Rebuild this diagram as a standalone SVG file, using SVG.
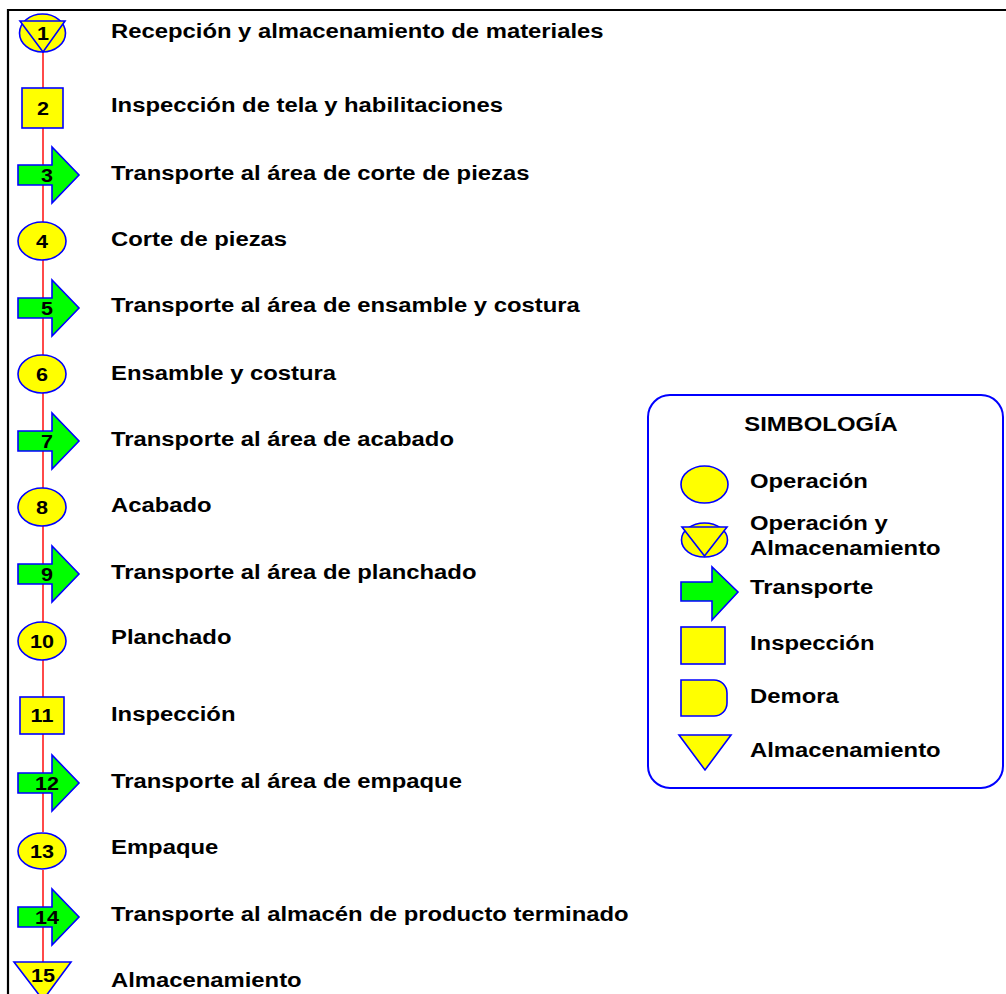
<svg xmlns="http://www.w3.org/2000/svg" width="1006" height="994" viewBox="0 0 1006 994">
<style>
.t{font-family:"Liberation Sans",Arial,sans-serif;font-weight:bold;font-size:21px;fill:#000}
.n{font-size:19px;text-anchor:middle}
.y{fill:#ffff00;stroke:#0000ff;stroke-width:1.6}
.g{fill:#00ff00;stroke:#0000ff;stroke-width:1.6}
.c line{stroke:#ff4a4a;stroke-width:2}
</style>
<rect width="1006" height="994" fill="#fff"/>
<path d="M8,994 V10 H1006" fill="none" stroke="#000" stroke-width="2.2"/>
<g id="connectors" class="c">
<line x1="43" y1="52" x2="43" y2="88"/>
<line x1="43" y1="128" x2="43" y2="165"/>
<line x1="43" y1="185" x2="43" y2="222"/>
<line x1="43" y1="260" x2="43" y2="298"/>
<line x1="43" y1="318" x2="43" y2="355"/>
<line x1="43" y1="393" x2="43" y2="431"/>
<line x1="43" y1="451" x2="43" y2="488"/>
<line x1="43" y1="526" x2="43" y2="564"/>
<line x1="43" y1="584" x2="43" y2="622"/>
<line x1="43" y1="660" x2="43" y2="697"/>
<line x1="43" y1="734" x2="43" y2="773"/>
<line x1="43" y1="793" x2="43" y2="832"/>
<line x1="43" y1="870" x2="43" y2="907"/>
<line x1="43" y1="927" x2="43" y2="962"/>
</g>
<g id="n1">
<ellipse class="y" cx="42.5" cy="33" rx="23" ry="19"/>
<polygon class="y" points="20,21 65,21 43,52"/>
<text class="t n" transform="translate(43,40) scale(1.135,1)">1</text>
<text class="t" transform="translate(111,38) scale(1.135,1)">Recepción y almacenamiento de materiales</text>
</g>
<g id="n2">
<rect class="y" x="22" y="88" width="41" height="40"/>
<text class="t n" transform="translate(43,115) scale(1.135,1)">2</text>
<text class="t" transform="translate(111,112) scale(1.135,1)">Inspección de tela y habilitaciones</text>
</g>
<g id="n3">
<polygon class="g" points="18,165 52,165 52,147 79,175 52,203 52,185 18,185"/>
<text class="t n" transform="translate(47,182) scale(1.135,1)">3</text>
<text class="t" transform="translate(111,180) scale(1.135,1)">Transporte al área de corte de piezas</text>
</g>
<g id="n4">
<ellipse class="y" cx="42" cy="241" rx="24" ry="19"/>
<text class="t n" transform="translate(42,248) scale(1.135,1)">4</text>
<text class="t" transform="translate(111,246) scale(1.135,1)">Corte de piezas</text>
</g>
<g id="n5">
<polygon class="g" points="18,298 52,298 52,280 79,308 52,336 52,318 18,318"/>
<text class="t n" transform="translate(47,315) scale(1.135,1)">5</text>
<text class="t" transform="translate(111,312) scale(1.135,1)">Transporte al área de ensamble y costura</text>
</g>
<g id="n6">
<ellipse class="y" cx="42" cy="374" rx="24" ry="19"/>
<text class="t n" transform="translate(42,381) scale(1.135,1)">6</text>
<text class="t" transform="translate(111,380) scale(1.135,1)">Ensamble y costura</text>
</g>
<g id="n7">
<polygon class="g" points="18,431 52,431 52,413 79,441 52,469 52,451 18,451"/>
<text class="t n" transform="translate(47,448) scale(1.135,1)">7</text>
<text class="t" transform="translate(111,446) scale(1.135,1)">Transporte al área de acabado</text>
</g>
<g id="n8">
<ellipse class="y" cx="42" cy="507" rx="24" ry="19"/>
<text class="t n" transform="translate(42,514) scale(1.135,1)">8</text>
<text class="t" transform="translate(111,512) scale(1.135,1)">Acabado</text>
</g>
<g id="n9">
<polygon class="g" points="18,564 52,564 52,546 79,574 52,602 52,584 18,584"/>
<text class="t n" transform="translate(47,581) scale(1.135,1)">9</text>
<text class="t" transform="translate(111,579) scale(1.135,1)">Transporte al área de planchado</text>
</g>
<g id="n10">
<ellipse class="y" cx="42" cy="641" rx="24" ry="19"/>
<text class="t n" transform="translate(42,648) scale(1.135,1)">10</text>
<text class="t" transform="translate(111,644) scale(1.135,1)">Planchado</text>
</g>
<g id="n11">
<rect class="y" x="20" y="697" width="44" height="37"/>
<text class="t n" transform="translate(42,722) scale(1.135,1)">11</text>
<text class="t" transform="translate(111,721) scale(1.135,1)">Inspección</text>
</g>
<g id="n12">
<polygon class="g" points="18,773 52,773 52,755 79,783 52,811 52,793 18,793"/>
<text class="t n" transform="translate(47,790) scale(1.135,1)">12</text>
<text class="t" transform="translate(111,788) scale(1.135,1)">Transporte al área de empaque</text>
</g>
<g id="n13">
<ellipse class="y" cx="42" cy="851" rx="24" ry="18"/>
<text class="t n" transform="translate(42,858) scale(1.135,1)">13</text>
<text class="t" transform="translate(111,854) scale(1.135,1)">Empaque</text>
</g>
<g id="n14">
<polygon class="g" points="18,907 52,907 52,889 79,917 52,945 52,927 18,927"/>
<text class="t n" transform="translate(47,924) scale(1.135,1)">14</text>
<text class="t" transform="translate(111,921) scale(1.135,1)">Transporte al almacén de producto terminado</text>
</g>
<g id="n15">
<polygon class="y" points="14,962 71,962 43,1000"/>
<text class="t n" transform="translate(43,982) scale(1.135,1)">15</text>
<text class="t" transform="translate(111,987) scale(1.135,1)">Almacenamiento</text>
</g>
<g id="legend">
<rect x="648" y="395" width="355" height="393" rx="22" ry="22" fill="#fff" stroke="#0000ff" stroke-width="2"/>
<text class="t" text-anchor="middle" transform="translate(821,431) scale(1.135,1)">SIMBOLOGÍA</text>
<ellipse class="y" cx="704.5" cy="484.5" rx="23.5" ry="18.5"/>
<text class="t" transform="translate(750,488) scale(1.135,1)">Operación</text>
<ellipse class="y" cx="704.5" cy="540" rx="23" ry="17"/>
<polygon class="y" points="682,527 727,527 704.5,556"/>
<text class="t" transform="translate(750,530) scale(1.135,1)">Operación y</text>
<text class="t" transform="translate(750,555) scale(1.135,1)">Almacenamiento</text>
<polygon class="g" points="681,582 712,582 712,567 738,592 712,620 712,601 681,601"/>
<text class="t" transform="translate(750,594) scale(1.135,1)">Transporte</text>
<rect class="y" x="681" y="627" width="44" height="37"/>
<text class="t" transform="translate(750,650) scale(1.135,1)">Inspección</text>
<path class="y" d="M681,680 H714 A13,13 0 0 1 727,693 V703 A13,13 0 0 1 714,716 H681 Z"/>
<text class="t" transform="translate(750,703) scale(1.135,1)">Demora</text>
<polygon class="y" points="679,735 731,735 705,770"/>
<text class="t" transform="translate(750,757) scale(1.135,1)">Almacenamiento</text>
</g>
</svg>
